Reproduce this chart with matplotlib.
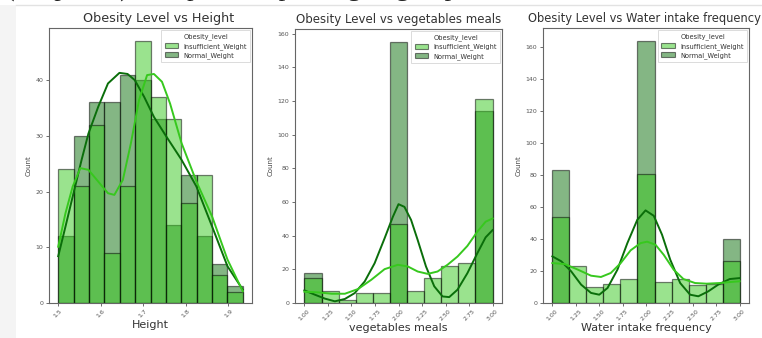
import numpy as np
import matplotlib
matplotlib.use("Agg")
import matplotlib.pyplot as plt
from matplotlib.patches import Patch, Rectangle
from matplotlib.lines import Line2D

# ---------------- data ----------------
levels = ["Insufficient_Weight", "Normal_Weight"]

# Height histogram (12 bins between min and max)
height_range = (1.50, 1.934)
height_insuff = [24, 21, 32, 9, 21, 47, 37, 33, 18, 23, 5, 2]
height_normal = [12, 30, 36, 36, 41, 40, 33, 14, 23, 12, 7, 3]

# Vegetables meals histogram (11 bins, 1..3)
veg_range = (1.0, 3.0)
veg_insuff = [15, 7, 2, 6, 6, 47, 7, 15, 22, 24, 121]
veg_normal = [18, 0, 0, 0, 0, 155, 0, 0, 0, 0, 114]

# Water intake histogram (11 bins, 1..3)
water_range = (1.0, 3.0)
water_insuff = [54, 23, 10, 12, 15, 81, 13, 15, 11, 12, 26]
water_normal = [83, 0, 0, 0, 0, 164, 0, 0, 0, 0, 40]

# KDE curves (x, count-scaled density)
h_kde_norm_x = [1.500, 1.517, 1.534, 1.555, 1.571, 1.594, 1.617, 1.644, 1.663, 1.680, 1.702, 1.725, 1.754, 1.790, 1.825, 1.862, 1.898, 1.934]
h_kde_norm_y = [8.4, 13.7, 19.1, 25.7, 30.4, 35.2, 39.4, 41.3, 41.1, 40.0, 37.0, 33.4, 29.9, 25.7, 20.9, 13.7, 6.6, 2.4]
h_kde_ins_x = [1.500, 1.517, 1.534, 1.552, 1.571, 1.594, 1.617, 1.632, 1.652, 1.671, 1.690, 1.709, 1.725, 1.744, 1.763, 1.790, 1.825, 1.862, 1.898, 1.934]
h_kde_ins_y = [10.1, 16.1, 20.9, 24.2, 23.9, 21.8, 19.7, 19.4, 22.1, 28.7, 36.4, 40.9, 41.1, 39.7, 35.8, 28.7, 21.8, 15.5, 7.8, 2.1]

v_kde_norm_x = [1.000, 1.113, 1.218, 1.324, 1.430, 1.535, 1.641, 1.746, 1.852, 1.940, 2.000, 2.063, 2.134, 2.204, 2.292, 2.380, 2.468, 2.539, 2.627, 2.732, 2.838, 2.926, 3.000]
v_kde_norm_y = [7.5, 4.9, 2.6, 1.0, 2.4, 5.9, 12.8, 23.6, 38.4, 51.2, 58.7, 57.1, 49.3, 37.4, 21.7, 9.9, 3.9, 3.5, 7.9, 17.7, 29.6, 39.0, 43.3]
v_kde_ins_x = [1.000, 1.148, 1.289, 1.430, 1.570, 1.711, 1.852, 1.993, 2.099, 2.204, 2.310, 2.415, 2.521, 2.627, 2.732, 2.838, 2.926, 3.000]
v_kde_ins_y = [6.7, 6.3, 5.5, 5.5, 8.3, 13.8, 20.1, 22.7, 21.7, 18.7, 17.3, 18.7, 22.7, 27.6, 33.9, 42.4, 48.3, 50.2]

w_kde_norm_x = [1.000, 1.095, 1.201, 1.307, 1.413, 1.501, 1.589, 1.695, 1.801, 1.907, 1.995, 2.083, 2.171, 2.259, 2.365, 2.471, 2.559, 2.665, 2.771, 2.894, 3.000]
w_kde_norm_y = [29.2, 26.1, 19.8, 11.5, 6.3, 5.2, 9.4, 20.9, 37.5, 52.1, 58.0, 54.6, 42.8, 27.1, 12.5, 5.2, 4.2, 7.3, 11.5, 15.0, 15.6]
w_kde_ins_x = [1.000, 1.131, 1.272, 1.413, 1.519, 1.624, 1.730, 1.836, 1.942, 2.012, 2.101, 2.189, 2.295, 2.400, 2.524, 2.647, 2.788, 2.894, 3.000]
w_kde_ins_y = [25.0, 24.4, 20.9, 17.1, 16.3, 18.8, 25.0, 33.0, 37.5, 38.4, 36.5, 30.2, 20.9, 15.0, 12.5, 12.1, 12.5, 13.1, 13.6]

titles = ["Obesity Level vs Height", "Obesity Level vs vegetables meals",
          "Obesity Level vs Water intake frequency"]
xlabels = ["Height", "vegetables meals", "Water intake frequency"]
h_ticks = [1.5, 1.6, 1.7, 1.8, 1.9]
h_ticklabels = ["1.5", "1.6", "1.7", "1.8", "1.9"]
vw_ticks = [1.00, 1.25, 1.50, 1.75, 2.00, 2.25, 2.50, 2.75, 3.00]
vw_ticklabels = ["1.00", "1.25", "1.50", "1.75", "2.00", "2.25", "2.50", "2.75", "3.00"]

# ---------------- style ----------------
C_INS = (55/255, 200/255, 30/255)
C_NOR = (10/255, 110/255, 10/255)
ALPHA = 0.5

W, H = 762, 338
fig = plt.figure(figsize=(W/100, H/100), dpi=100)
fig.patch.set_facecolor("white")

# screenshot frame remnants
fig.patches.append(Rectangle((0, 0), 16/W, (H-5)/H, transform=fig.transFigure,
                             facecolor="#f4f4f4", edgecolor="none", zorder=0))
fig.lines.append(Line2D([16/W, 1], [(H-5)/H, (H-5)/H], transform=fig.transFigure,
                        color="#e2e2e2", lw=1))
fig.text(0.008, (H+3.5)/H, "(Graph 4.3) Comparative plotting of groups",
         family="Liberation Serif", fontsize=19, color="#222222",
         va="baseline", ha="left")

def px_axes(left, top, right, bottom):
    return fig.add_axes([left/W, (H-bottom)/H, (right-left)/W, (bottom-top)/H])

axes = [px_axes(49, 28, 252, 303), px_axes(295, 29, 502, 303), px_axes(543, 28, 749, 303)]
title_sizes = [9.2, 8.5, 8.3]
title_x = [0.54, 0.5, 0.49]

datasets = [
    (height_range, height_insuff, height_normal,
     (h_kde_ins_x, h_kde_ins_y), (h_kde_norm_x, h_kde_norm_y), h_ticks, h_ticklabels,
     [0, 10, 20, 30, 40]),
    (veg_range, veg_insuff, veg_normal,
     (v_kde_ins_x, v_kde_ins_y), (v_kde_norm_x, v_kde_norm_y), vw_ticks, vw_ticklabels,
     list(range(0, 161, 20))),
    (water_range, water_insuff, water_normal,
     (w_kde_ins_x, w_kde_ins_y), (w_kde_norm_x, w_kde_norm_y), vw_ticks, vw_ticklabels,
     list(range(0, 161, 20))),
]

for i, (ax, (rng, ins, nor, kins, knor, xt, xtl, yt), title, xl) in enumerate(
        zip(axes, datasets, titles, xlabels)):
    n = len(ins)
    edges = np.linspace(rng[0], rng[1], n + 1)
    widths = np.diff(edges)
    # seaborn layered order: last level first
    ax.bar(edges[:-1], nor, width=widths, align="edge", facecolor=C_NOR,
           edgecolor="black", linewidth=0.9, alpha=ALPHA, zorder=2)
    ax.bar(edges[:-1], ins, width=widths, align="edge", facecolor=C_INS,
           edgecolor="black", linewidth=0.9, alpha=ALPHA, zorder=2)
    ax.plot(knor[0], knor[1], color=C_NOR, lw=1.4, zorder=3)
    ax.plot(kins[0], kins[1], color=C_INS, lw=1.4, zorder=3)

    ax.set_ylim(0, max(max(ins), max(nor)) * 1.05)
    ax.set_xticks(xt)
    ax.set_xticklabels(xtl, rotation=45, fontsize=4.5, color="#444444")
    ax.set_yticks(yt)
    ax.set_yticklabels([str(v) for v in yt], fontsize=4.5, color="#444444")
    ax.tick_params(length=2.5, width=0.6, colors="#555555", pad=1.5)
    ax.set_ylabel("Count", fontsize=5, color="#444444", labelpad=3)
    ax.set_xlabel(xl, fontsize=8, color="#333333", labelpad=1)
    ax.set_title(title, fontsize=title_sizes[i], color="#333333", pad=4, x=title_x[i])
    for s in ax.spines.values():
        s.set_color("#666666")
        s.set_linewidth(0.8)

    handles = [Patch(facecolor=C_INS, edgecolor="black", alpha=ALPHA, lw=0.8),
               Patch(facecolor=C_NOR, edgecolor="black", alpha=ALPHA, lw=0.8)]
    leg = ax.legend(handles, levels, title="Obesity_level", loc="upper right",
                    fontsize=4.8, title_fontsize=4.8, frameon=True, borderpad=0.5,
                    handlelength=2.0, handleheight=0.8, labelspacing=0.4,
                    borderaxespad=0.3, fancybox=False)
    leg.get_frame().set_edgecolor("#cccccc")
    leg.get_frame().set_linewidth(0.6)
    for t in leg.get_texts():
        t.set_color("#333333")
    leg.get_title().set_color("#333333")

fig.savefig("out.png", dpi=100, facecolor="white")
